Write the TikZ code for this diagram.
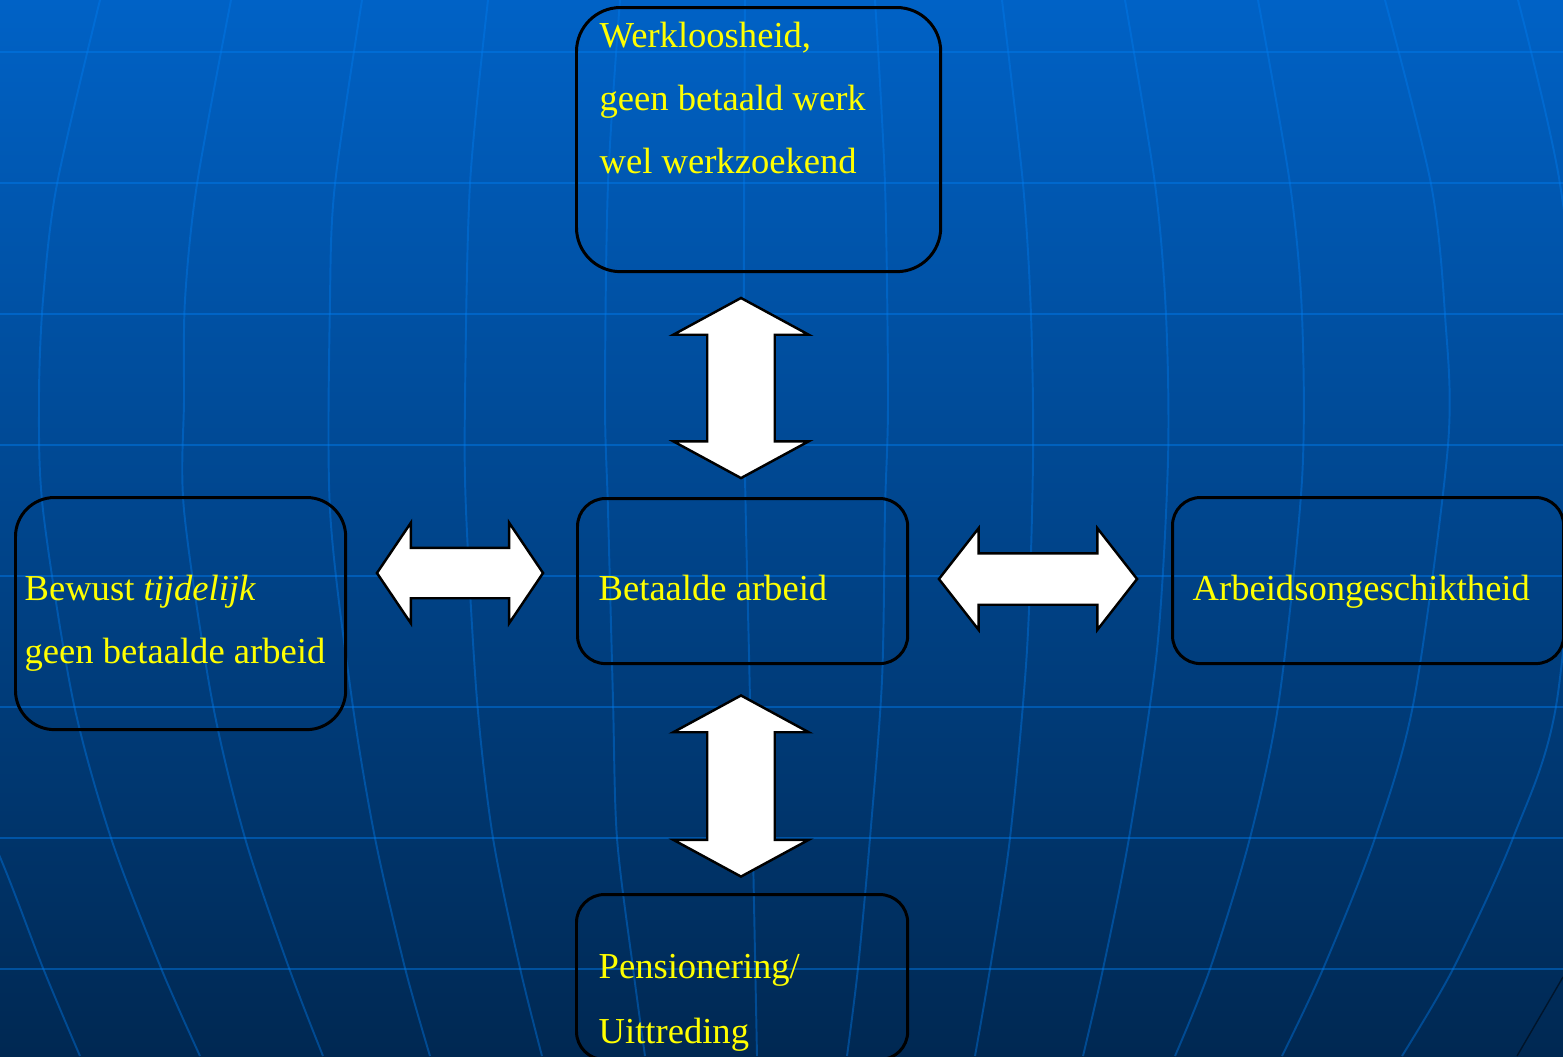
\documentclass[tikz,border=0pt]{standalone}
\usepackage{fontspec}
\setmainfont{Liberation Serif}
\usetikzlibrary{shapes.arrows}

\definecolor{achtergrondboven}{RGB}{0,98,198}
\definecolor{achtergrondonder}{RGB}{0,40,82}
\definecolor{rasterblauw}{RGB}{0,125,240}
\definecolor{tekstgeel}{RGB}{255,255,0}

\begin{document}
\begin{tikzpicture}[x=0.01cm, y=-0.01cm,
    vak/.style={draw=black, line width=0.85pt, rounded corners=#1, anchor=north west, inner sep=0pt},
    vak/.default=0.28cm,
    tekst/.style={text=tekstgeel, anchor=base west, inner sep=0pt, font=\fontsize{10.4pt}{12pt}\selectfont},
    dubbelpijl/.style={double arrow, draw=black, fill=white, line width=0.7pt, inner xsep=0pt},
    breedtelijn/.style={rasterblauw, opacity=0.45, line width=0.8pt},
    meridiaan/.style={rasterblauw, opacity=0.4, line width=0.55pt}]

    % Fix the size of the slide
    \useasboundingbox (0,0) rectangle (1563,1056);
    \clip (0,0) rectangle (1563,1056);

    % Draw the background
    \shade[top color=achtergrondboven, bottom color=achtergrondonder] (0,0) rectangle (1563,1056);
    \foreach \y in {52,183,314,445,576,707,838,969}
        \draw[breedtelijn] (0,\y) -- (1563,\y);

    % Draw the meridians of the globe
    \draw[meridiaan] plot[smooth] coordinates {(-40,0) (-80,184) (-95,400) (-70,700) (0,857) (43,968) (80,1056)};
    \draw[meridiaan] plot[smooth] coordinates {(100,0) (57,184) (43,300) (39,400) (43,510) (73,700) (111,838) (161,968) (200,1056)};
    \draw[meridiaan] plot[smooth] coordinates {(231,0) (197,184) (185,300) (184,400) (184,510) (212,700) (245,838) (289,968) (323,1056)};
    \draw[meridiaan] plot[smooth] coordinates {(362,0) (335,184) (330,300) (330,510) (352,700) (375,838) (405,968) (430,1056)};
    \draw[meridiaan] plot[smooth] coordinates {(488,0) (470,184) (465,400) (466,510) (477,700) (493,838) (520,968) (542,1056)};
    \draw[meridiaan] plot[smooth] coordinates {(620,0) (608,184) (605,400) (608,510) (613,700) (617,838) (633,968) (645,1056)};
    \draw[meridiaan] plot[smooth] coordinates {(745,0) (744,400) (750,700) (757,1056)};
    \draw[meridiaan] plot[smooth] coordinates {(875,0) (885,184) (888,400) (885,510) (882,680) (870,838) (858,968) (847,1056)};
    \draw[meridiaan] plot[smooth] coordinates {(1002,0) (1023,184) (1031,315) (1033,460) (1027,650) (1010,838) (990,969) (975,1056)};
    \draw[meridiaan] plot[smooth] coordinates {(1125,0) (1155,184) (1166,315) (1168,460) (1157,650) (1129,838) (1103,969) (1083,1056)};
    \draw[meridiaan] plot[smooth] coordinates {(1258,0) (1290,184) (1302,315) (1302,480) (1279,700) (1250,838) (1210,969) (1175,1056)};
    \draw[meridiaan] plot[smooth] coordinates {(1385,0) (1431,184) (1445,315) (1448,445) (1414,700) (1375,838) (1323,969) (1282,1056)};
    \draw[meridiaan] plot[smooth] coordinates {(1518,0) (1560,184) (1580,400) (1557,700) (1513,838) (1453,969) (1402,1056)};
    \draw[black, opacity=0.5, line width=0.4pt] (1517,1056) -- (1563,977);

    % Draw the boxes
    \node[vak=0.44cm, minimum width=3.64cm, minimum height=2.64cm] (werkloos) at (575,6) {};
    \node[vak=0.39cm, minimum width=3.30cm, minimum height=2.32cm] (bewust) at (14,496) {};
    \node[vak, minimum width=3.30cm, minimum height=1.65cm] (betaald) at (576,497) {};
    \node[vak, minimum width=3.91cm, minimum height=1.66cm] (ongeschikt) at (1171,496) {};
    \node[vak, minimum width=3.31cm, minimum height=1.65cm] (pensioen) at (575,893) {};

    % Put the texts in the boxes
    \node[tekst] (werkloos-1) at (599,47) {Werkloosheid,};
    \node[tekst] (werkloos-2) at (599,110) {geen betaald werk};
    \node[tekst] (werkloos-3) at (599,173) {wel werkzoekend};
    \node[tekst] (bewust-1) at (24,600) {Bewust \textit{tijdelijk}};
    \node[tekst] (bewust-2) at (24,663) {geen betaalde arbeid};
    \node[tekst] (betaald-1) at (598,600) {Betaalde arbeid};
    \node[tekst] (ongeschikt-1) at (1192,600) {Arbeidsongeschiktheid};
    \node[tekst] (pensioen-1) at (598,978) {Pensionering/};
    \node[tekst] (pensioen-2) at (598,1043) {Uittreding};

    % Draw the double arrows between the boxes
    \node[dubbelpijl, rotate=90, minimum height=1.80cm, minimum width=1.33cm, inner ysep=0.325cm,
        double arrow head extend=0.34cm, double arrow tip angle=123] (pijlboven) at (741,388) {};
    \node[dubbelpijl, rotate=90, minimum height=1.81cm, minimum width=1.33cm, inner ysep=0.325cm,
        double arrow head extend=0.34cm, double arrow tip angle=123] (pijlonder) at (741,786) {};
    \node[dubbelpijl, minimum height=1.66cm, minimum width=0.98cm, inner ysep=0.24cm,
        double arrow head extend=0.25cm, double arrow tip angle=112] (pijllinks) at (460,573) {};
    \node[dubbelpijl, minimum height=1.98cm, minimum width=0.99cm, inner ysep=0.245cm,
        double arrow head extend=0.25cm, double arrow tip angle=104] (pijlrechts) at (1038,579) {};
  \end{tikzpicture}
\end{document}
